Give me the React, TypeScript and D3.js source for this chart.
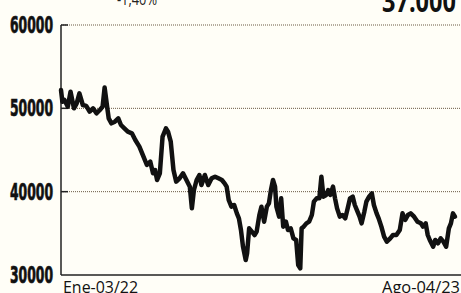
import * as d3 from "d3";

// days after Ene-03/22
const days = [
  0, 2, 5, 10, 14, 19, 23, 27, 32, 37, 42, 47, 52, 57, 61, 64, 68, 70, 74, 79,
  84, 88, 93, 98, 104, 109, 115, 118, 121, 126, 131, 135, 138, 141, 145, 149, 154, 157, 161, 165,
  169, 174, 179, 184, 189, 192, 195, 199, 203, 206, 211, 216, 221, 226, 231, 236, 240, 243, 246, 250,
  254, 258, 261, 264, 267, 271, 273, 276, 280, 284, 287, 291, 294, 298, 302, 305, 308, 311, 314, 316,
  320, 323, 326, 330, 333, 337, 341, 345, 348, 351, 353, 356, 360, 364, 368, 371, 375, 379, 382, 385,
  389, 392, 395, 399, 402, 405, 409, 413, 417, 420, 424, 428, 431, 435, 438, 441, 445, 448, 452, 456,
  459, 463, 466, 470, 474, 478, 483, 487, 492, 497, 501, 505, 509, 513, 518, 523, 528, 531, 535, 538,
  541, 546, 549, 553, 557, 561, 565, 569, 572, 575, 578,
];
const values = [
  52200, 50800, 51000, 50200, 52000, 50000, 50600, 51800, 50400, 50300, 49600, 50000, 49400, 49800, 50200, 52500, 50000, 48800, 48200, 48400,
  48800, 48000, 47600, 47200, 47000, 46200, 45400, 44800, 44200, 43200, 43600, 42200, 42600, 41400, 42200, 46600, 47600, 47200, 46000, 42600,
  41200, 41600, 42200, 41400, 40600, 38000, 40200, 41400, 42000, 40800, 42000, 40800, 41600, 41800, 41600, 41400, 41000, 40600, 39000, 38200,
  38400, 37400, 36800, 35400, 33400, 31800, 32600, 35600, 35200, 34800, 35200, 37200, 38200, 36400, 38200, 38600, 40200, 41400, 40600, 38200,
  37000, 39200, 35800, 36400, 35400, 35600, 34400, 34200, 31200, 30800, 35600, 35800, 36200, 36400, 37200, 38800, 39200, 39200, 41800, 39400,
  39600, 40200, 39600, 40600, 39200, 38000, 37000, 37200, 36800, 37800, 39200, 39400, 38400, 37600, 37000, 36200, 37600, 38800, 39400, 39800,
  38400, 37400, 36800, 35800, 34600, 34000, 34400, 34800, 34800, 35400, 37400, 36600, 37200, 37400, 37000, 36400, 36200, 35800, 36200, 34800,
  34200, 33400, 34200, 33800, 34400, 34000, 33400, 35600, 36200, 37400, 37000,
];
const yTicks = [30000, 40000, 50000, 60000];
const xLabels = ["Ene-03/22", "Ago-04/23"];
const changeLabel = "-1,40%";
const lastLabel = "37.000";

const W = 461;
const H = 293;
const left = 61;
const right = 461;
const plotEnd = 455;
const top = 25;
const bottom = 275;

export default function App() {
  const start = new Date(2022, 0, 3);
  const dates = days.map((d) => d3.timeDay.offset(start, d));
  const x = d3.scaleTime().domain([dates[0], dates[dates.length - 1]]).range([left, plotEnd]);
  const y = d3.scaleLinear().domain([30000, 60000]).range([bottom, top]);

  const line = d3
    .line<number>()
    .x((_, i) => x(dates[i]))
    .y((d) => y(d))
    .curve(d3.curveLinear);

  return (
    <svg
      width={W}
      height={H}
      style={{ position: "fixed", left: 0, top: 0, display: "block" }}
    >
      <rect x={0} y={0} width={W} height={H} fill="#fffef7" />

      {/* grid + ticks */}
      {yTicks.map((t) => (
        <g key={t}>
          {t > 30000 && (
            <line
              x1={left}
              x2={right}
              y1={y(t)}
              y2={y(t)}
              stroke="#6a5a44"
              strokeWidth={1}
              strokeDasharray="1,1"
            />
          )}
          {t > 30000 && (
            <line x1={left} x2={left + 7} y1={y(t)} y2={y(t)} stroke="#222" strokeWidth={1.5} />
          )}
          <text
            x={53}
            y={y(t) + 8}
            textAnchor="end"
            fontFamily="'Liberation Sans Narrow', 'DejaVu Sans Condensed', sans-serif"
            fontWeight="bold"
            fontSize={23}
            textLength={43}
            lengthAdjust="spacingAndGlyphs"
            fill="#111"
            stroke="#111"
            strokeWidth={0.7}
          >
            {t}
          </text>
        </g>
      ))}

      {/* axes */}
      <line x1={left} x2={left} y1={top} y2={bottom} stroke="#222" strokeWidth={1.5} />
      <line x1={left} x2={right} y1={bottom} y2={bottom} stroke="#222" strokeWidth={1.5} />

      {/* series */}
      <path
        d={line(values) ?? ""}
        fill="none"
        stroke="#111"
        strokeWidth={4.5}
        strokeLinejoin="round"
        strokeLinecap="round"
      />

      {/* x labels */}
      <text
        x={x(dates[0]) + 2}
        y={293}
        fontFamily="'Open Sans', sans-serif"
        fontSize={16}
        textLength={75}
        lengthAdjust="spacingAndGlyphs"
        fill="#111"
      >
        {xLabels[0]}
      </text>
      <text
        x={460}
        y={293}
        textAnchor="end"
        fontFamily="'Open Sans', sans-serif"
        fontSize={16}
        textLength={78}
        lengthAdjust="spacingAndGlyphs"
        fill="#111"
      >
        {xLabels[1]}
      </text>

      {/* header remnants */}
      <text
        x={117}
        y={5}
        fontFamily="'Open Sans', sans-serif"
        fontSize={16}
        textLength={40}
        lengthAdjust="spacingAndGlyphs"
        fill="#222"
      >
        {changeLabel}
      </text>
      <text
        x={456}
        y={12}
        textAnchor="end"
        fontFamily="'Open Sans', sans-serif"
        fontWeight="bold"
        fontSize={30}
        textLength={74}
        lengthAdjust="spacingAndGlyphs"
        fill="#111"
      >
        {lastLabel}
      </text>
    </svg>
  );
}
